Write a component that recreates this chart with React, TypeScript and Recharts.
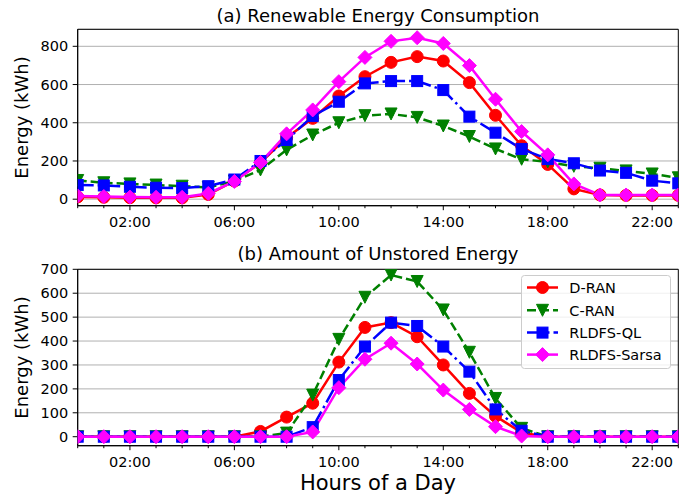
import { LineChart, Line, XAxis, YAxis, CartesianGrid, ReferenceArea } from 'recharts';

const FONT = '"DejaVu Sans", Verdana, sans-serif';
const RED = '#ff0000';
const GREEN = '#008000';
const BLUE = '#0000ff';
const MAGENTA = '#ff00ff';

const hours = [0, 1, 2, 3, 4, 5, 6, 7, 8, 9, 10, 11, 12, 13, 14, 15, 16, 17, 18, 19, 20, 21, 22, 23];
const majorHours = [2, 6, 10, 14, 18, 22];

// (a) renewable energy consumption, kWh
const consDRan = [12, 10, 8, 7, 7, 25, 95, 190, 322, 423, 540, 641, 716, 746, 723, 610, 439, 280, 182, 54, 22, 20, 20, 20];
const consCRan = [98, 86, 80, 74, 68, 62, 95, 153, 258, 336, 400, 437, 446, 428, 383, 328, 263, 209, 195, 172, 162, 148, 132, 112];
const consQL = [74, 72, 65, 60, 58, 68, 103, 200, 310, 435, 510, 606, 618, 618, 571, 432, 348, 263, 210, 188, 150, 138, 97, 83];
const consSarsa = [17, 14, 11, 10, 10, 30, 93, 192, 342, 467, 615, 742, 826, 845, 815, 699, 523, 354, 232, 80, 22, 22, 22, 22];

// (b) amount of unstored energy, kWh
const unstDRan = [0, 0, 0, 0, 0, 0, 0, 22, 82, 140, 312, 457, 477, 418, 300, 181, 86, 17, 0, 0, 0, 0, 0, 0];
const unstCRan = [0, 0, 0, 0, 0, 0, 0, 0, 15, 174, 407, 583, 676, 649, 530, 353, 160, 35, 0, 0, 0, 0, 0, 0];
const unstQL = [0, 0, 0, 0, 0, 0, 0, 0, 0, 40, 237, 377, 477, 463, 377, 272, 114, 25, 0, 0, 0, 0, 0, 0];
const unstSarsa = [0, 0, 0, 0, 0, 0, 0, 0, 0, 20, 205, 324, 391, 304, 195, 114, 42, 3, 0, 0, 0, 0, 0, 0];

const topTicks = [0, 200, 400, 600, 800];
const bottomTicks = [0, 100, 200, 300, 400, 500, 600, 700];

const topRows = hours.map((h, i) => ({
  hour: h,
  dran: consDRan[i],
  cran: consCRan[i],
  ql: consQL[i],
  sarsa: consSarsa[i],
}));

const bottomRows = hours.map((h, i) => ({
  hour: h,
  dran: unstDRan[i],
  cran: unstCRan[i],
  ql: unstQL[i],
  sarsa: unstSarsa[i],
}));

type Kind = 'circle' | 'triangle' | 'square' | 'diamond';

const series: Array<{ key: string; name: string; color: string; kind: Kind; dash?: string }> = [
  { key: 'dran', name: 'D-RAN', color: RED, kind: 'circle' },
  { key: 'cran', name: 'C-RAN', color: GREEN, kind: 'triangle', dash: '9 4' },
  { key: 'ql', name: 'RLDFS-QL', color: BLUE, kind: 'square', dash: '16 4 2.5 4' },
  { key: 'sarsa', name: 'RLDFS-Sarsa', color: MAGENTA, kind: 'diamond' },
];

function Marker({ kind, cx, cy, color }: { kind: Kind; cx: number; cy: number; color: string }) {
  if (cx == null || cy == null) return null;
  if (kind === 'circle') return <circle cx={cx} cy={cy} r={6} fill={color} stroke={color} />;
  if (kind === 'square')
    return <rect x={cx - 5.5} y={cy - 5.5} width={11} height={11} fill={color} stroke={color} />;
  if (kind === 'triangle')
    return (
      <polygon
        points={`${cx - 6},${cy - 6} ${cx + 6},${cy - 6} ${cx},${cy + 6}`}
        fill={color}
        stroke={color}
      />
    );
  return (
    <polygon
      points={`${cx},${cy - 7} ${cx + 7},${cy} ${cx},${cy + 7} ${cx - 7},${cy}`}
      fill={color}
      stroke={color}
    />
  );
}

function HourTick(props: any) {
  const { x, y, payload } = props;
  const v = payload.value as number;
  const major = majorHours.includes(v);
  return (
    <g>
      <line x1={x} x2={x} y1={y} y2={y + (major ? 4.5 : 2.5)} stroke="#000" strokeWidth={1} />
      {major && (
        <text x={x} y={y + 21.5} textAnchor="middle" fontSize={14.5} fontFamily={FONT} fill="#000">
          {`${String(v).padStart(2, '0')}:00`}
        </text>
      )}
    </g>
  );
}

function Panel({
  rows,
  height,
  xAxisHeight,
  yDomain,
  yTicks,
}: {
  rows: any[];
  height: number;
  xAxisHeight: number;
  yDomain: [number, number];
  yTicks: number[];
}) {
  return (
    <LineChart
      width={693}
      height={height}
      data={rows}
      margin={{ top: 29.3, right: 14.7, bottom: 0, left: 0 }}
    >
      <CartesianGrid vertical={false} stroke="#b0b0b0" strokeWidth={1} />
      <XAxis
        dataKey="hour"
        type="number"
        domain={[0, 23]}
        ticks={hours}
        interval={0}
        allowDataOverflow
        height={xAxisHeight}
        stroke="#000"
        tickLine={false}
        tickSize={0}
        tickMargin={0}
        tick={(p: any) => <HourTick {...p} />}
      />
      <YAxis
        type="number"
        domain={yDomain}
        ticks={yTicks}
        allowDataOverflow
        width={77.7}
        stroke="#000"
        tickSize={5}
        tickMargin={4.5}
        tick={{ fill: '#000', fontSize: 14.5, fontFamily: FONT }}
      />
      {series.map((s) => (
        <Line
          key={s.key}
          type="linear"
          dataKey={s.key}
          stroke={s.color}
          strokeWidth={2.5}
          strokeDasharray={s.dash}
          isAnimationActive={false}
          dot={(p: any) => (
            <Marker key={`${s.key}-${p.index}`} kind={s.kind} cx={p.cx} cy={p.cy} color={s.color} />
          )}
          activeDot={false}
        />
      ))}
      <ReferenceArea
        x1={0}
        x2={23}
        y1={yDomain[0]}
        y2={yDomain[1]}
        fill="none"
        stroke="#000"
        strokeWidth={1}
      />
    </LineChart>
  );
}

function LegendBox() {
  const left = 521.5;
  const top = 275.5;
  const rowY = [287.5, 310.3, 332.6, 354.6];
  return (
    <g>
      <rect
        x={left}
        y={top}
        width={149}
        height={93}
        rx={3}
        fill="#fff"
        fillOpacity={0.8}
        stroke="#cccccc"
        strokeWidth={1}
      />
      {series.map((s, i) => (
        <g key={s.key}>
          <line
            x1={527}
            x2={558}
            y1={rowY[i]}
            y2={rowY[i]}
            stroke={s.color}
            strokeWidth={2.5}
            strokeDasharray={s.dash}
          />
          <Marker kind={s.kind} cx={542.5} cy={rowY[i]} color={s.color} />
          <text x={569.3} y={rowY[i] + 5.3} fontSize={14.5} fontFamily={FONT} fill="#000">
            {s.name}
          </text>
        </g>
      ))}
    </g>
  );
}

export default function App() {
  return (
    <div
      style={{
        position: 'absolute',
        left: 0,
        top: 0,
        width: 693,
        height: 496,
        background: '#fff',
        overflow: 'hidden',
      }}
    >
      <div style={{ position: 'absolute', left: 0, top: 0 }}>
        <Panel rows={topRows} height={240} xAxisHeight={34.3} yDomain={[-34, 889]} yTicks={topTicks} />
      </div>
      <div style={{ position: 'absolute', left: 0, top: 240 }}>
        <Panel rows={bottomRows} height={256} xAxisHeight={50.3} yDomain={[-37.6, 700]} yTicks={bottomTicks} />
      </div>
      <svg
        width={693}
        height={496}
        style={{ position: 'absolute', left: 0, top: 0, pointerEvents: 'none' }}
      >
        <text x={378} y={21.5} textAnchor="middle" fontSize={18} fontFamily={FONT} fill="#000">
          (a) Renewable Energy Consumption
        </text>
        <text x={378} y={260} textAnchor="middle" fontSize={18} fontFamily={FONT} fill="#000">
          (b) Amount of Unstored Energy
        </text>
        <text
          transform="translate(28,117.5) rotate(-90)"
          textAnchor="middle"
          fontSize={18}
          fontFamily={FONT}
          fill="#000"
        >
          Energy (kWh)
        </text>
        <text
          transform="translate(28,357.5) rotate(-90)"
          textAnchor="middle"
          fontSize={18}
          fontFamily={FONT}
          fill="#000"
        >
          Energy (kWh)
        </text>
        <text x={378} y={490} textAnchor="middle" fontSize={21} fontFamily={FONT} fill="#000">
          Hours of a Day
        </text>
        <LegendBox />
      </svg>
    </div>
  );
}
